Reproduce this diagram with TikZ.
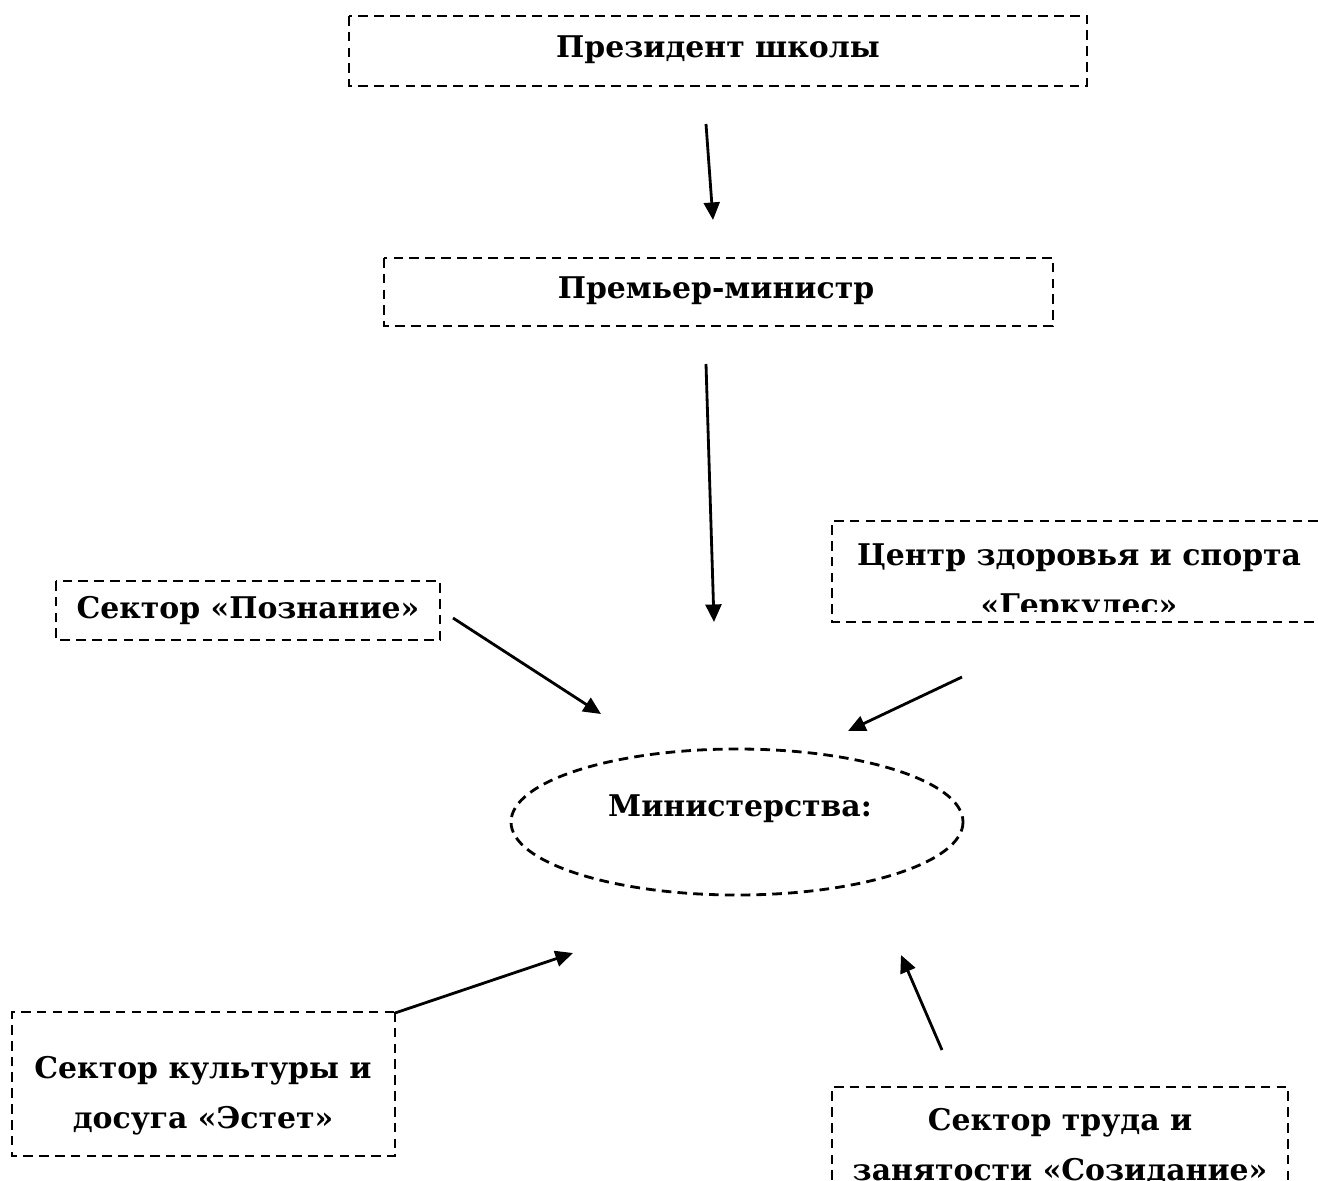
\documentclass[tikz,border=0pt]{standalone}
\usepackage{fontspec}
\setmainfont{DejaVu Serif}
\usetikzlibrary{arrows.meta,shapes.geometric}
\tikzset{
	box/.style={line width=1.6pt, dash pattern=on 5.5pt off 3.5pt},
	txt/.style={font=\bfseries\fontsize{17}{28.5}\selectfont, align=center, inner sep=0pt},
	arr/.style={line width=1.6pt, -{Triangle[length=10pt,width=9pt]}}
}

\begin{document}
\begin{tikzpicture}[x=0.02cm, y=-0.02cm]
			%%%%% START %%%%%
			\path[use as bounding box, clip] (0, 0) rectangle (1318, 1180);
			
			\draw[box] (349, 16) rectangle (1087, 86);
			\node[txt] (pres) at (718, 50) {Президент школы};
			
			\draw[box] (384, 258) rectangle (1053, 326);
			\node[txt] (prem) at (716, 291) {Премьер-министр};
			
			\draw[box] (56, 581) rectangle (440, 640);
			\node[txt] (pozn) at (248, 611) {Сектор «Познание»};
			
			\draw[box] (1318, 521) -- (832, 521) -- (832, 622) -- (1318, 622);
			\begin{scope}
				\clip (832, 521) rectangle (1318, 611);
				\node[txt] (gerk) at (1079, 583) {Центр здоровья и спорта\\«Геркулес»};
			\end{scope}
			
			\draw[box] (737, 822) ellipse (226 and 73);
			\node[txt] (min) at (740, 809) {Министерства:};
			
			\draw[box] (395, 1012) rectangle (12, 1156);
			\node[txt] (est) at (203, 1096) {Сектор культуры и\\досуга «Эстет»};
			
			\draw[box] (832, 1180) -- (832, 1087) -- (1288, 1087) -- (1288, 1180);
			\node[txt] (soz) at (1060, 1146) {Сектор труда и\\занятости «Созидание»};
			
			% arrows
			\coordinate (a1) at (706, 124);  \coordinate (b1) at (713, 220);
			\coordinate (a2) at (706, 364);  \coordinate (b2) at (714, 622);
			\coordinate (a3) at (453, 618);  \coordinate (b3) at (601, 714);
			\coordinate (a4) at (962, 677);  \coordinate (b4) at (848, 731);
			\coordinate (a5) at (395, 1013); \coordinate (b5) at (573, 953);
			\coordinate (a6) at (942, 1050); \coordinate (b6) at (901, 955);
			
			\draw[arr] (a1) -- (b1);
			\draw[arr] (a2) -- (b2);
			\draw[arr] (a3) -- (b3);
			\draw[arr] (a4) -- (b4);
			\draw[arr] (a5) -- (b5);
			\draw[arr] (a6) -- (b6);
			%%%%% END %%%%%
\end{tikzpicture}
\end{document}
